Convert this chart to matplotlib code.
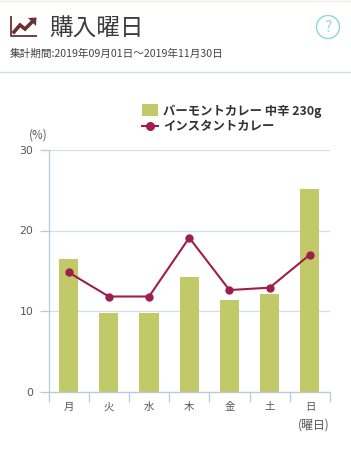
import matplotlib
matplotlib.use('Agg')
import matplotlib.pyplot as plt
from matplotlib.patches import Circle

plt.rcParams['font.family'] = ['Noto Sans CJK JP', 'DejaVu Sans']

days = ['月', '火', '水', '木', '金', '土', '日']
bar_values = [16.5, 9.8, 9.8, 14.2, 11.4, 12.1, 25.1]
line_values = [14.8, 11.8, 11.8, 19.1, 12.6, 12.9, 17.0]
y_ticks = [0, 10, 20, 30]
bar_name = 'バーモントカレー 中辛 230g'
line_name = 'インスタントカレー'

W, H = 351, 459
AXIS = '#b4cce0'
GRID = '#d5dde3'
TEXT = '#555555'
BAR = '#c2c968'
LINE = '#9e1f4d'

fig = plt.figure(figsize=(W / 100, H / 100), dpi=100)

# page layer in pixel coordinates (header, icon, separators)
bg = fig.add_axes([0, 0, 1, 1])
bg.set_xlim(0, W)
bg.set_ylim(H, 0)
bg.axis('off')
bg.plot([0, W], [0.5, 0.5], color='#ecebe4', lw=1)
bg.plot([0, W], [71.5, 71.5], color='#d5dde3', lw=1)

# chart icon
icon = '#6b3033'
bg.plot([10.5, 10.5, 37], [16, 35.5, 35.5], color=icon, lw=1.3, solid_capstyle='butt')
bg.plot([14, 20, 25, 33], [32, 25, 29, 21], color=icon, lw=2.6, solid_joinstyle='miter')
bg.fill([28, 36.5, 36], [18, 17.5, 26], color=icon, lw=0)

bg.text(49.5, 29, '購入曜日', fontsize=17, color='#3c3c3c', va='center', ha='left')
bg.text(10, 53.5, '集計期間:2019年09月01日～2019年11月30日', fontsize=7.65, color='#444444',
        va='center', ha='left')
bg.add_patch(Circle((328, 27), 11.5, fill=False, ec='#8fd5d8', lw=1))
bg.text(328, 27, '?', fontsize=11, color='#9adadc', va='center', ha='center')

# legend, drawn by hand to keep its position
bg.fill([142, 158, 158, 142], [104, 104, 116, 116], color=BAR, lw=0)
bg.plot([142, 158], [126, 126], color=LINE, lw=1.5)
bg.plot([150], [126], 'o', color=LINE, ms=5.5)
bg.text(163, 111.5, bar_name, fontsize=8.9, fontweight='bold', color='#333333', va='center')
bg.text(163, 126.5, line_name, fontsize=8.9, fontweight='bold', color='#333333', va='center')

# chart
x0, x1 = 48.5, 330
y_top, y_bot = 150, 391.5
ax = fig.add_axes([x0 / W, 1 - y_bot / H, (x1 - x0) / W, (y_bot - y_top) / H])
ax.patch.set_alpha(0)
pos = list(range(len(days)))
ax.bar(pos, bar_values, width=0.475, color=BAR, zorder=2)
ax.plot(pos, line_values, color=LINE, lw=1.5, marker='o', ms=5, zorder=3, clip_on=False)
ax.set_xlim(-0.5, 6.5)
ax.set_ylim(0, 30)

ax.set_yticks(y_ticks)
ax.set_yticklabels([str(v) for v in y_ticks], fontsize=7.8, color=TEXT, family='DejaVu Sans')
ax.grid(axis='y', color=GRID, lw=0.9, zorder=1)
ax.set_axisbelow(True)
ax.tick_params(axis='y', length=6.8, width=0.9, color=AXIS, pad=4)

# x ticks sit at the cell edges, labels at the centres
ax.set_xticks([p - 0.5 for p in pos] + [6.5])
ax.set_xticklabels([])
ax.set_xticks(pos, minor=True)
ax.set_xticklabels(days, minor=True, fontsize=7.5, color=TEXT)
ax.tick_params(axis='x', which='major', length=7, width=0.9, color=AXIS)
ax.tick_params(axis='x', which='minor', length=0, pad=7.7)

for s in ['top', 'right']:
    ax.spines[s].set_visible(False)
for s in ['left', 'bottom']:
    ax.spines[s].set_color(AXIS)
    ax.spines[s].set_linewidth(0.9)

bg.text(29, 135.5, '(%)', fontsize=8.4, color=TEXT, va='center', ha='left')
bg.text(330, 425, '(曜日)', fontsize=8.6, color=TEXT, va='center', ha='right')

fig.savefig('out.png', dpi=100)
